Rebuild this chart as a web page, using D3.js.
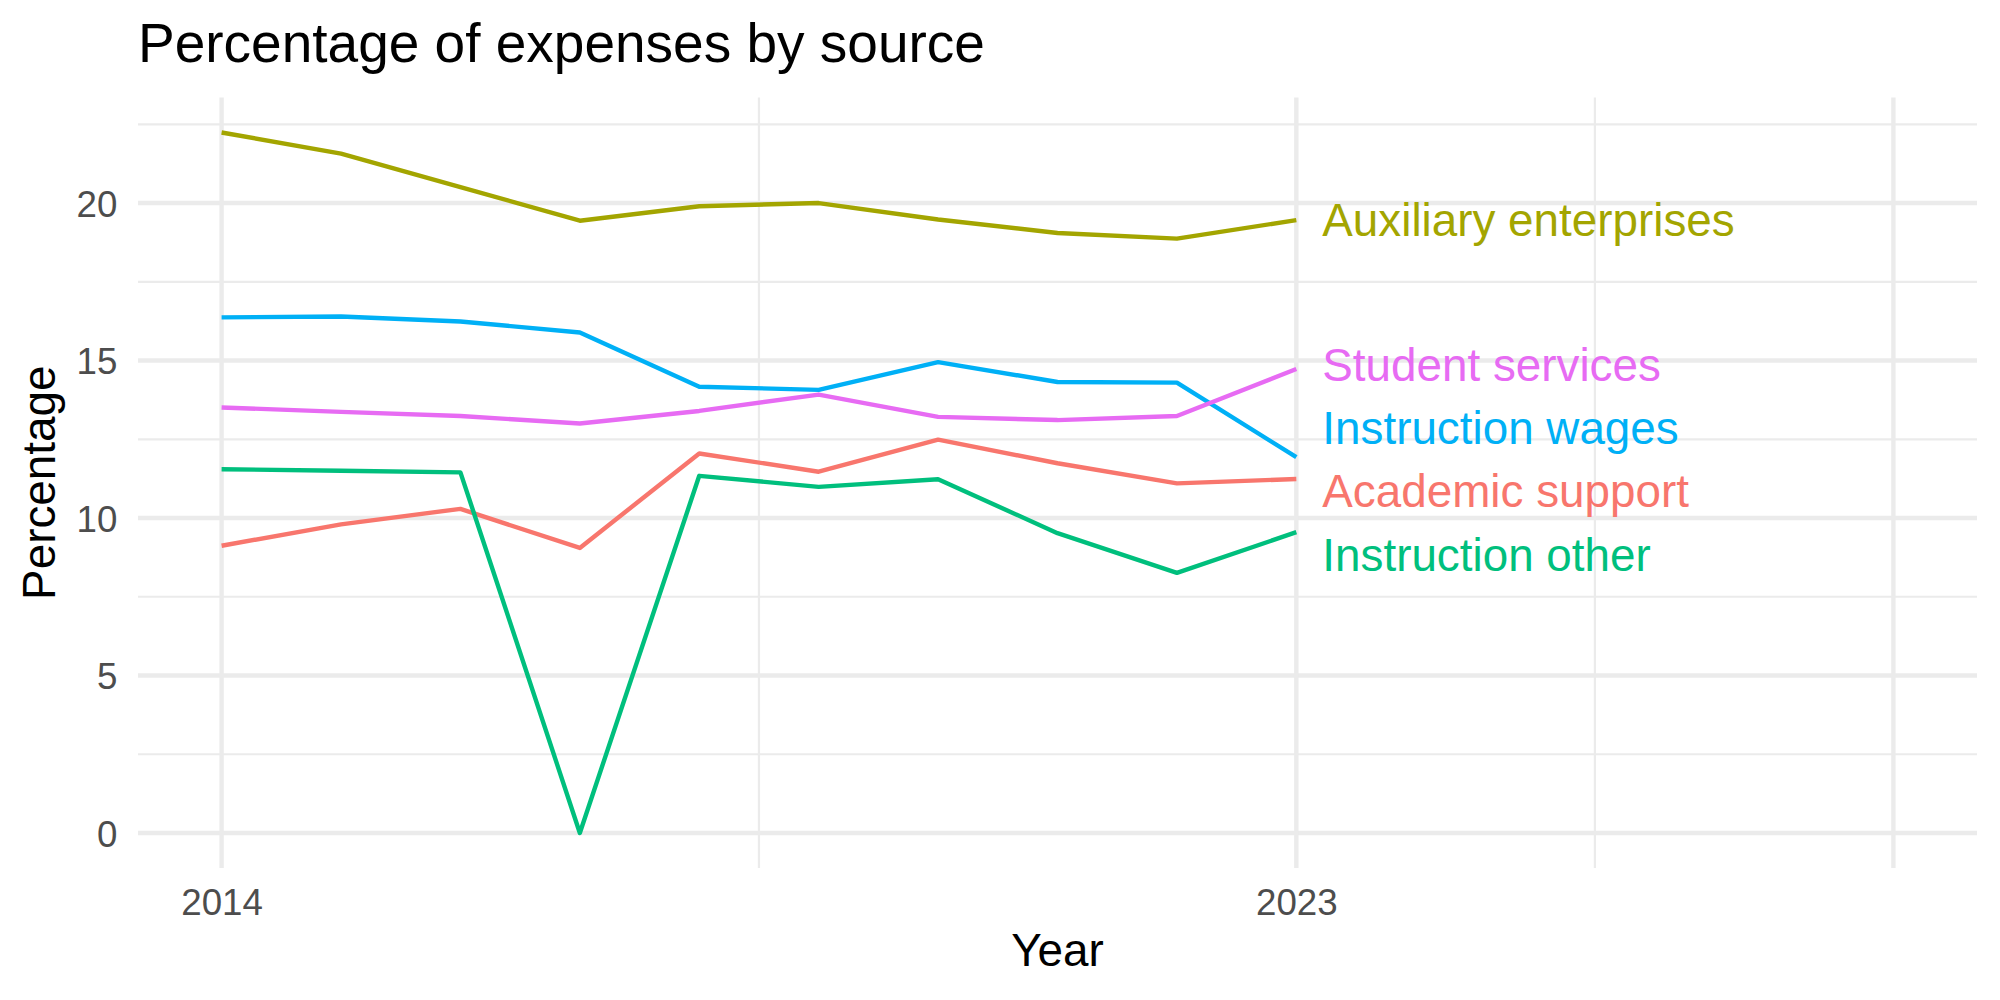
<!DOCTYPE html>
<html>
<head>
<meta charset="utf-8">
<script src="https://cdn.jsdelivr.net/npm/d3@7"></script>
<style>
  html, body { margin: 0; padding: 0; background: #ffffff; }
  svg { display: block; }
  text { font-family: "Liberation Sans", Arial, Helvetica, sans-serif; }
</style>
</head>
<body>
<script>
// ---------------- data ----------------
const years = [2014, 2015, 2016, 2017, 2018, 2019, 2020, 2021, 2022, 2023];
const seriesNames = ["Academic support", "Auxiliary enterprises", "Instruction other", "Instruction wages", "Student services"];
const seriesColors = ["#F8766D", "#A3A500", "#00BF7D", "#00B0F6", "#E76BF3"];
const academicSupport      = [9.12, 9.80, 10.29, 9.05, 12.05, 11.47, 12.49, 11.74, 11.10, 11.24];
const auxiliaryEnterprises = [22.24, 21.57, 20.51, 19.44, 19.90, 20.00, 19.48, 19.05, 18.87, 19.46];
const instructionOther     = [11.55, 11.50, 11.45, 0.00, 11.34, 10.99, 11.23, 9.52, 8.26, 9.55];
const instructionWages     = [16.37, 16.40, 16.24, 15.89, 14.17, 14.07, 14.95, 14.32, 14.30, 11.93];
const studentServices      = [13.51, 13.37, 13.24, 13.00, 13.40, 13.92, 13.21, 13.11, 13.24, 14.73];
const seriesValues = [academicSupport, auxiliaryEnterprises, instructionOther, instructionWages, studentServices];

const xLimits = [2014, 2028];
const xBreaks = [2014, 2023, 2028];
const xBreakLabels = ["2014", "2023", ""];
const xMinorBreaks = [2018.5, 2025.5];
const yBreaks = [0, 5, 10, 15, 20];
const yBreakLabels = ["0", "5", "10", "15", "20"];
const yMinorBreaks = [2.5, 7.5, 12.5, 17.5, 22.5];

const titleText = "Percentage of expenses by source";
const xTitle = "Year";
const yTitle = "Percentage";

// ---------------- layout ----------------
const W = 2000, H = 1000;
const panel = { left: 138, right: 1977, top: 97.5, bottom: 868 };

const svg = d3.select("body").append("svg").attr("width", W).attr("height", H);

function expand(lo, hi, m) { const r = hi - lo; return [lo - r * m, hi + r * m]; }

const yMax = d3.max(seriesValues, s => d3.max(s));
const yMin = Math.min(0, d3.min(seriesValues, s => d3.min(s)));

const x = d3.scaleLinear().domain(expand(xLimits[0], xLimits[1], 0.05)).range([panel.left, panel.right]);
const y = d3.scaleLinear().domain(expand(yMin, yMax, 0.05)).range([panel.bottom, panel.top]);

// grid
const grid = svg.append("g");
grid.selectAll(".ymin").data(yMinorBreaks.filter(v => y(v) >= panel.top && y(v) <= panel.bottom)).join("line")
  .attr("x1", panel.left).attr("x2", panel.right).attr("y1", d => y(d)).attr("y2", d => y(d))
  .attr("stroke", "#EBEBEB").attr("stroke-width", 2.2);
grid.selectAll(".xmin").data(xMinorBreaks).join("line")
  .attr("x1", d => x(d)).attr("x2", d => x(d)).attr("y1", panel.top).attr("y2", panel.bottom)
  .attr("stroke", "#EBEBEB").attr("stroke-width", 2.2);
grid.selectAll(".ymaj").data(yBreaks).join("line")
  .attr("x1", panel.left).attr("x2", panel.right).attr("y1", d => y(d)).attr("y2", d => y(d))
  .attr("stroke", "#EBEBEB").attr("stroke-width", 4.4);
grid.selectAll(".xmaj").data(xBreaks).join("line")
  .attr("x1", d => x(d)).attr("x2", d => x(d)).attr("y1", panel.top).attr("y2", panel.bottom)
  .attr("stroke", "#EBEBEB").attr("stroke-width", 4.4);

// axes (d3 axes, with domain/ticks hidden like theme_minimal)
const xAxis = d3.axisBottom(x).tickValues(xBreaks).tickFormat((d, i) => xBreakLabels[i]).tickSize(0).tickPadding(20.7);
const gx = svg.append("g").attr("transform", `translate(0,${panel.bottom})`).call(xAxis);
gx.select(".domain").remove();
gx.selectAll("text").attr("font-size", 36.7).attr("fill", "#4D4D4D")
  .attr("font-family", '"Liberation Sans", Arial, Helvetica, sans-serif').attr("dy", "0.716em");

const yAxis = d3.axisLeft(y).tickValues(yBreaks).tickFormat((d, i) => yBreakLabels[i]).tickSize(0).tickPadding(20.7);
const gy = svg.append("g").attr("transform", `translate(${panel.left},0)`).call(yAxis);
gy.select(".domain").remove();
gy.selectAll("text").attr("font-size", 36.7).attr("fill", "#4D4D4D")
  .attr("font-family", '"Liberation Sans", Arial, Helvetica, sans-serif').attr("dy", "0.358em");

// lines
const line = d3.line().x((d, i) => x(years[i])).y(d => y(d));
svg.append("g").selectAll("path").data(seriesValues).join("path")
  .attr("d", d => line(d))
  .attr("fill", "none")
  .attr("stroke", (d, i) => seriesColors[i])
  .attr("stroke-width", 4.4)
  .attr("stroke-linejoin", "round")
  .attr("stroke-linecap", "butt");

// end labels with simple vertical dodge (repel)
const lastIdx = years.length - 1;
const labelGap = 63.3;
const items = seriesNames.map((n, i) => ({ name: n, color: seriesColors[i], target: y(seriesValues[i][lastIdx]) }))
  .sort((a, b) => a.target - b.target);
let clusters = items.map(d => ({ members: [d] }));
function center(c) { return d3.mean(c.members, m => m.target); }
function topOf(c) { return center(c) - (c.members.length - 1) / 2 * labelGap; }
function botOf(c) { return center(c) + (c.members.length - 1) / 2 * labelGap; }
let merged = true;
while (merged) {
  merged = false;
  for (let i = 0; i < clusters.length - 1; i++) {
    if (topOf(clusters[i + 1]) - botOf(clusters[i]) < labelGap) {
      clusters[i] = { members: clusters[i].members.concat(clusters[i + 1].members) };
      clusters.splice(i + 1, 1);
      merged = true;
      break;
    }
  }
}
clusters.forEach(c => c.members.forEach((m, k) => { m.pos = topOf(c) + k * labelGap; }));

svg.append("g").selectAll("text").data(items).join("text")
  .attr("x", x(years[lastIdx]) + 26)
  .attr("y", d => d.pos)
  .attr("dy", "0.358em")
  .attr("font-size", 45.8)
  .attr("fill", d => d.color)
  .text(d => d.name);

// titles
svg.append("text").attr("x", panel.left).attr("y", 62)
  .attr("font-size", 55).attr("fill", "#000").text(titleText);
svg.append("text").attr("x", (panel.left + panel.right) / 2).attr("y", 966)
  .attr("text-anchor", "middle").attr("font-size", 45.8).attr("fill", "#000").text(xTitle);
svg.append("text")
  .attr("transform", `translate(55,${(panel.top + panel.bottom) / 2}) rotate(-90)`)
  .attr("text-anchor", "middle").attr("font-size", 45.8).attr("fill", "#000").text(yTitle);
</script>
</body>
</html>
